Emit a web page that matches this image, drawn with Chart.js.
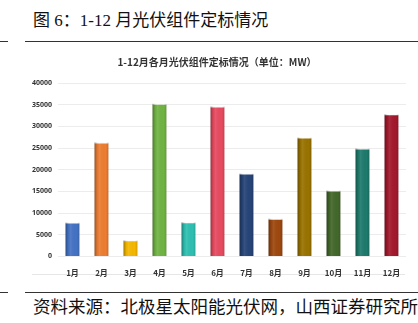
<!DOCTYPE html>
<html>
<head>
<meta charset="utf-8">
<script src="https://cdn.jsdelivr.net/npm/chart.js@4.4.1/dist/chart.umd.min.js"></script>
<style>
  html, body { margin: 0; padding: 0; background: #fff; }
  body { width: 418px; height: 323px; position: relative; overflow: hidden; }
  .head { position: absolute; left: 33px; top: 6px; font-size: 17px; color: #111;
    font-family: "Liberation Serif", "Noto Sans CJK SC", serif; white-space: nowrap; }
  .foot { position: absolute; left: 33px; top: 293px; font-size: 17.5px; color: #111;
    font-family: "Noto Sans CJK SC", sans-serif; white-space: nowrap; letter-spacing: 0px; }
  .rule { position: absolute; height: 1px; background: #333; }
  .frame { position: absolute; left: 32px; top: 274px; width: 373px; height: 1px; background: #e6e6e6; }
  #box { position: absolute; left: 28px; top: 50px; width: 384px; height: 232px; }
</style>
</head>
<body>
<div class="head">图 6：1-12 月光伏组件定标情况</div>
<div class="rule" style="left:0;top:41px;width:8px;"></div>
<div class="rule" style="left:25px;top:41px;width:393px;"></div>
<div class="frame"></div>
<div id="box"><canvas id="c"></canvas></div>
<div class="rule" style="left:0;top:292px;width:8px;"></div>
<div class="rule" style="left:25px;top:292px;width:393px;"></div>
<div class="foot">资料来源：北极星太阳能光伏网，山西证券研究所</div>
<script>
const meses = ['1月', '2月', '3月', '4月', '5月', '6月', '7月', '8月', '9月', '10月', '11月', '12月'];
const definidoMW = [7800, 26300, 3700, 35200, 7900, 34600, 19100, 8700, 27400, 15200, 24900, 32800];
const coresBarras = ['#4472c4', '#ed7d31', '#f5b800', '#70b443', '#2ec0b2', '#e84a60',
  '#264478', '#9e480e', '#997300', '#43682b', '#1e7a6c', '#a3182c'];
const tituloGrafico = '1-12月各月光伏组件定标情况（单位：MW）';

// sombreado lateral para imitar as barras em relevo do original
const relevo = {
  id: 'relevo',
  afterDatasetsDraw(chart) {
    const ctx = chart.ctx;
    for (const bar of chart.getDatasetMeta(0).data) {
      const w = bar.width, x0 = bar.x - w / 2;
      const g = ctx.createLinearGradient(x0, 0, x0 + w, 0);
      g.addColorStop(0, 'rgba(0,0,0,0.35)');
      g.addColorStop(0.2, 'rgba(0,0,0,0.05)');
      g.addColorStop(0.35, 'rgba(255,255,255,0.08)');
      g.addColorStop(0.8, 'rgba(0,0,0,0)');
      g.addColorStop(1, 'rgba(0,0,0,0.15)');
      ctx.save();
      ctx.fillStyle = g;
      ctx.fillRect(x0, bar.y, w, bar.base - bar.y);
      ctx.restore();
    }
  }
};

new Chart(document.getElementById('c'), {
  type: 'bar',
  data: {
    labels: meses,
    datasets: [{
      data: definidoMW,
      backgroundColor: coresBarras,
      borderColor: 'rgba(255,255,255,0.6)',
      borderWidth: {top: 1, left: 0, right: 0, bottom: 0},
      barPercentage: 0.49,
      categoryPercentage: 1
    }]
  },
  options: {
    animation: false,
    responsive: true,
    maintainAspectRatio: false,
    layout: { padding: { right: 6, left: 0, top: 0, bottom: 0 } },
    scales: {
      x: {
        grid: { display: false },
        border: { display: false },
        ticks: { color: '#333', font: { family: 'Noto Sans CJK SC', size: 8, weight: 'bold' }, padding: 4, maxRotation: 0 }
      },
      y: {
        min: 0,
        max: 40000,
        afterFit(scale) { scale.width = 30; },
        grid: { color: '#ececec', drawTicks: false },
        border: { display: false },
        ticks: {
          stepSize: 5000, color: '#333', padding: 6,
          font: { family: 'Open Sans', size: 7, weight: 'bold' },
          callback: v => String(v)
        }
      }
    },
    plugins: {
      legend: { display: false },
      tooltip: { enabled: false },
      title: {
        display: true,
        text: tituloGrafico,
        color: '#333',
        font: { family: 'Noto Sans CJK SC', size: 10, weight: 'bold' },
        padding: { top: 6, bottom: 15 }
      }
    }
  },
  plugins: [relevo]
});
</script>
</body>
</html>
